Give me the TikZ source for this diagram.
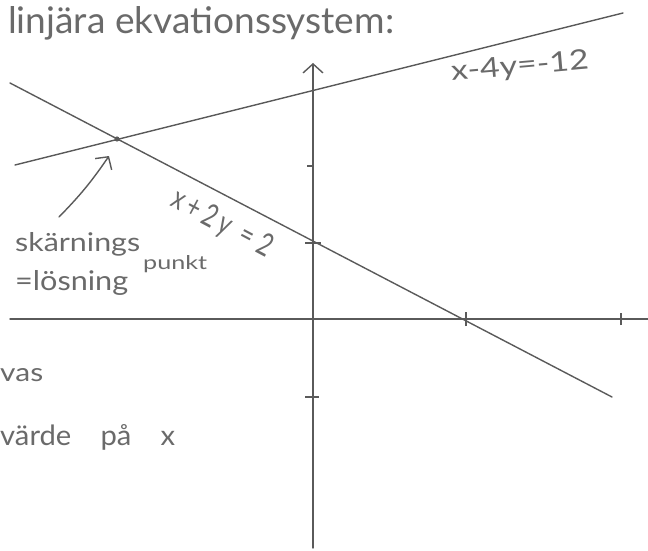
\documentclass[tikz,border=0pt]{standalone}
\usepackage{graphicx}
\usepackage{fontspec}
\setmainfont{Lato}
\usetikzlibrary{arrows.meta}
\definecolor{pencil}{HTML}{5A5A5A}
\definecolor{ink}{HTML}{6A6A6A}
\begin{document}
\begin{tikzpicture}[x=1pt,y=-1pt,
  pen/.style={draw=pencil, line width=1.4pt, line cap=round},
  tickmark/.style={draw=pencil, line width=1.6pt},
  lbl/.style={text=ink, inner sep=0pt},
  barb/.style={-{Straight Barb[length=9pt,width=20pt,line width=1.4pt]}}]
\useasboundingbox (0,0) rectangle (648,551);
% axes
\coordinate (xl) at (10,319);
\coordinate (xr) at (648,319);
\coordinate (yb) at (313,548);
\coordinate (yt) at (313,63);
\draw[pen] (xl) -- (xr);
\draw[pen, barb] (yb) -- (yt);
% ticks
\coordinate (ty2) at (313,166);
\coordinate (ty1) at (313,243);
\coordinate (tym) at (313,397);
\coordinate (tx2) at (466,319);
\coordinate (tx4) at (621,319);
\draw[tickmark] ([xshift=-6pt]ty2) -- (ty2);
\draw[tickmark, line width=2.4pt] ([xshift=-8pt]ty1) -- ([xshift=8pt]ty1);
\draw[tickmark] ([xshift=-8pt]tym) -- ([xshift=6pt]tym);
\draw[tickmark] ([yshift=-7pt]tx2) -- ([yshift=7pt]tx2);
\draw[tickmark] ([yshift=-6pt]tx4) -- ([yshift=6pt]tx4);
% lines
\coordinate (a1) at (10,83);
\coordinate (a2) at (612,397);
\coordinate (b1) at (15,165);
\coordinate (b2) at (623,13);
\draw[pen] (a1) -- (a2);
\draw[pen] (b1) -- (b2);
% intersection
\coordinate (P) at (117,139);
\fill[pencil] (P) circle (2.6pt);
% arrow to intersection
\coordinate (arrS) at (59,217);
\coordinate (arrE) at (109,156);
\draw[pen, barb] (arrS) to[bend right=5] (arrE);
% texts
\node[lbl, anchor=south west] (title) at (8,40) {\resizebox{386pt}{27pt}{linjära ekvationssystem:}};
\node[lbl, rotate=5] (eq1) at (520,67) {\resizebox{138pt}{20pt}{x-4y=-12}};
\node[lbl, rotate=-28] (eq2) at (222,224) {\resizebox{110pt}{23pt}{x\kern2pt+\kern2pt2\kern2pt y\kern5pt =\kern3pt 2}};
\node[lbl, anchor=south west] (sk) at (15,256) {\resizebox{125pt}{19pt}{skärnings}};
\node[lbl, anchor=south west] (pk) at (143,273) {\resizebox{64pt}{14pt}{punkt}};
\node[lbl, anchor=south west] (ls) at (15,296) {\resizebox{113pt}{20pt}{=lösning}};
\node[lbl, anchor=south west] (vas) at (0,382) {\resizebox{43pt}{13pt}{vas}};
\node[lbl, anchor=south west] (vx) at (0,450) {\resizebox{175pt}{21pt}{värde\quad på\quad x}};
\end{tikzpicture}
\end{document}
